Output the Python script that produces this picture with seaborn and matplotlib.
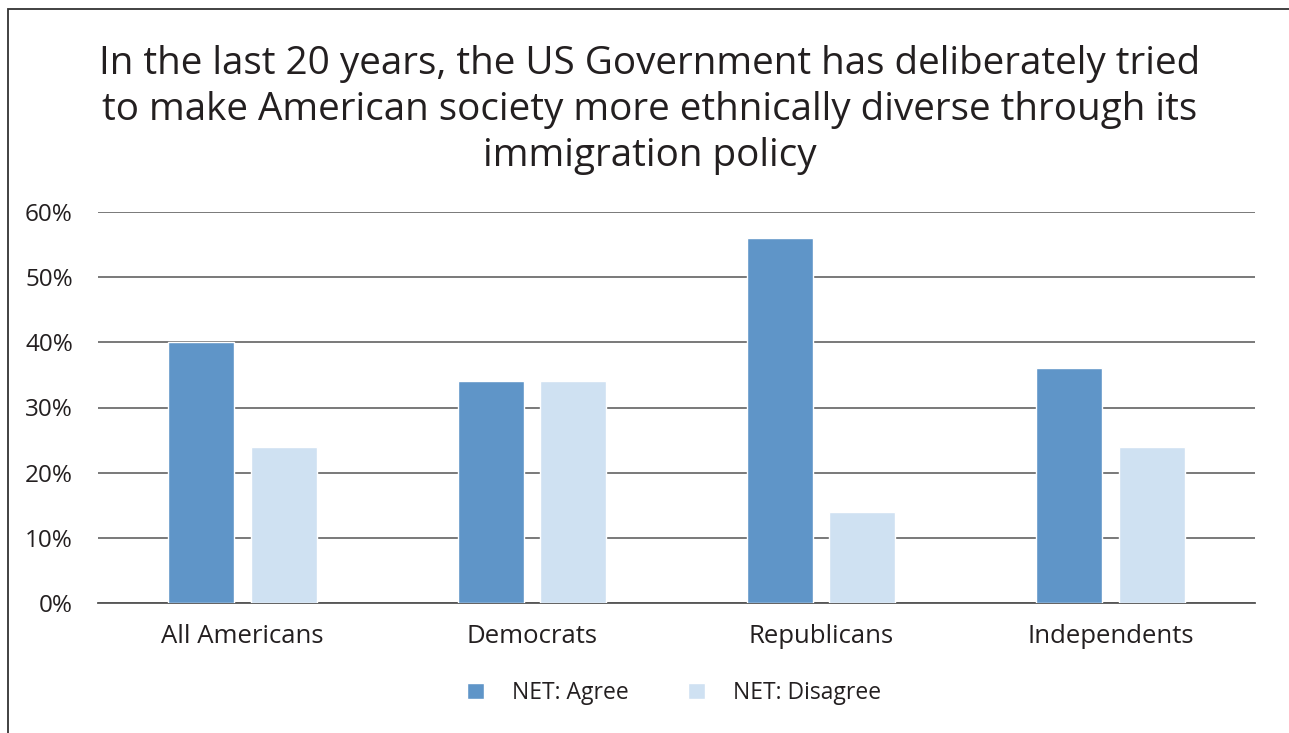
import matplotlib
matplotlib.use("Agg")
import matplotlib.pyplot as plt
import seaborn as sns
import pandas as pd
from matplotlib.patches import Rectangle
from matplotlib.ticker import FuncFormatter

categories = ["All Americans", "Democrats", "Republicans", "Independents"]
agree = [40, 34, 56, 36]
disagree = [24, 34, 14, 24]
series = ["NET: Agree", "NET: Disagree"]
colors = ["#5F95C8", "#CFE1F2"]
title = ("In the last 20 years, the US Government has deliberately tried\n"
         "to make American society more ethnically diverse through its\n"
         "immigration policy")

df = pd.DataFrame({
    "Group": categories * 2,
    "Series": [series[0]] * 4 + [series[1]] * 4,
    "Value": agree + disagree,
})

sns.set_theme(style="white")
plt.rcParams["font.family"] = ["Open Sans", "DejaVu Sans"]
text_color = "#231F20"

fig = plt.figure(figsize=(12.89, 7.33), dpi=100)
ax = fig.add_axes([98/1289, 1 - 603/733, (1255-98)/1289, (603-212)/733])

sns.barplot(data=df, x="Group", y="Value", hue="Series", order=categories,
            hue_order=series, palette=colors, width=0.57, gap=0.2,
            saturation=1, ax=ax, legend=True, zorder=3)

ax.set_ylim(0, 60)
ax.set_yticks(range(0, 61, 10))
ax.yaxis.set_major_formatter(FuncFormatter(lambda v, p: f"{int(v)}%"))
ax.grid(axis="y", color="#555555", linewidth=1.1, zorder=0)
ax.set_axisbelow(True)
for s in ["top", "right", "left"]:
    ax.spines[s].set_visible(False)
ax.spines["bottom"].set_color("#555555")
ax.spines["bottom"].set_linewidth(1.3)
ax.set_xlabel("")
ax.set_ylabel("")
ax.tick_params(axis="y", length=0, pad=18, labelsize=17.5, labelcolor=text_color)
ax.tick_params(axis="x", length=0, pad=15, labelsize=18.5, labelcolor=text_color)

fig.text(650/1289, 1 - 110/733, title, ha="center", va="center",
         fontsize=27.8, color=text_color, linespacing=1.26)

leg = ax.legend(loc="center", bbox_to_anchor=(0.498, -0.23), ncol=2, frameon=False,
                fontsize=16.5, handlelength=0.75, handleheight=0.75,
                columnspacing=2.6, handletextpad=1.2)
for t in leg.get_texts():
    t.set_color(text_color)

fig.patches.append(Rectangle((8/1289, -0.1), 2.0, 1 - 9/733 + 0.1,
                             transform=fig.transFigure, fill=False,
                             edgecolor="#333333", linewidth=1.3))

fig.savefig("out.png", dpi=100)
